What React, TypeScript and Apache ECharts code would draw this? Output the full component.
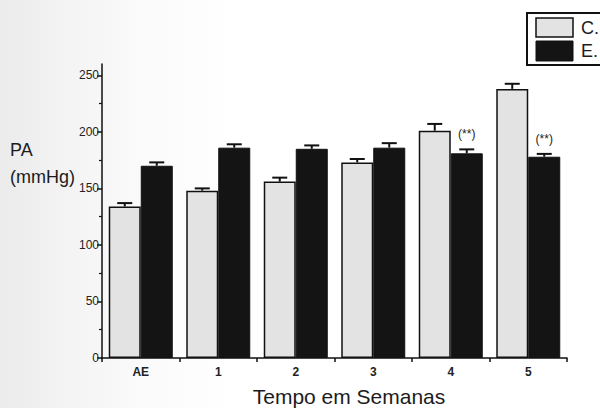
import React, { useEffect, useRef } from "react";
import * as echarts from "echarts";

const categories = ["AE", "1", "2", "3", "4", "5"];
const controlValues = [134, 148, 156, 173, 201, 238];
const controlErrors = [3, 2, 3.5, 3, 6, 4.5];
const exerciseValues = [170, 186, 185, 186, 181, 178];
const exerciseErrors = [3, 3, 3, 4, 3.5, 2.5];
const exerciseMarks = ["", "", "", "", "(**)", "(**)"];
const yTicks = [0, 50, 100, 150, 200, 250];
const yMinorTicks = [25, 75, 125, 175, 225];
const legendNames = ["C.", "E."];
const yTitleLines = ["PA", "(mmHg)"];
const xTitle = "Tempo em Semanas";

const FONT = "Liberation Sans, Arial, sans-serif";
const LIGHT = "#e3e3e3";
const DARK = "#141414";
const BAR_W = 32;

function txt(text: string, size: number, extra: any = {}) {
  return {
    text,
    fill: "#1c1c1c",
    fontSize: size,
    fontFamily: FONT,
    ...extra,
  };
}

function errorSeries(values: number[], errors: number[], offset: number, marks: string[] | null) {
  return {
    type: "custom",
    xAxisIndex: 0,
    yAxisIndex: 0,
    z: 5,
    silent: true,
    data: values.map((v, i) => [i, v, errors[i]]),
    renderItem: (params: any, api: any) => {
      const i = api.value(0);
      const v = api.value(1);
      const e = api.value(2);
      const base = api.coord([i, v]);
      const top = api.coord([i, v + e]);
      const cx = base[0] + offset;
      const half = 7.5;
      const children: any[] = [
        {
          type: "line",
          shape: { x1: cx, y1: base[1], x2: cx, y2: top[1] },
          style: { stroke: "#111", lineWidth: 2 },
        },
        {
          type: "line",
          shape: { x1: cx - half, y1: top[1], x2: cx + half, y2: top[1] },
          style: { stroke: "#111", lineWidth: 2 },
        },
      ];
      const m = marks ? marks[params.dataIndex] : "";
      if (m) {
        children.push({
          type: "text",
          x: cx,
          y: top[1] - 15,
          style: txt(m, 12, { align: "center", verticalAlign: "middle", fill: "#222" }),
        });
      }
      return { type: "group", children };
    },
  };
}

export default function App() {
  const ref = useRef<HTMLDivElement>(null);

  useEffect(() => {
    if (!ref.current) return;
    const chart = echarts.init(ref.current, null, { renderer: "svg" });
    chart.setOption({
      animation: false,
      backgroundColor: "transparent",
      textStyle: { fontFamily: FONT },
      grid: { left: 102, right: 33, top: 64, bottom: 50, containLabel: false },
      xAxis: {
        type: "category",
        data: categories,
        boundaryGap: true,
        axisLine: { show: true, lineStyle: { color: "#111", width: 1.5 } },
        axisTick: { show: true, alignWithLabel: false, length: 4, lineStyle: { color: "#111", width: 1.5 } },
        axisLabel: { color: "#222", fontSize: 12, fontWeight: "bold", margin: 8, fontFamily: FONT },
        splitLine: { show: false },
      },
      yAxis: [
        {
          type: "value",
          min: 0,
          max: 260,
          interval: 50,
          axisLine: { show: true, lineStyle: { color: "#111", width: 1.5 } },
          axisTick: { show: true, length: 5, customValues: yTicks, lineStyle: { color: "#111", width: 1.5 } },
          axisLabel: { customValues: yTicks, color: "#222", fontSize: 12, margin: 3, fontFamily: FONT },
          splitLine: { show: false },
        },
        {
          type: "value",
          min: 0,
          max: 260,
          interval: 50,
          position: "left",
          offset: 0,
          axisLine: { show: false },
          axisTick: { show: true, length: 3, customValues: yMinorTicks, lineStyle: { color: "#111", width: 1.2 } },
          axisLabel: { show: false },
          splitLine: { show: false },
        },
      ],
      series: [
        {
          name: legendNames[0],
          type: "bar",
          data: controlValues,
          barWidth: BAR_W,
          barGap: "0%",
          itemStyle: { color: LIGHT, borderColor: "#111", borderWidth: 1.5 },
          z: 2,
        },
        {
          name: legendNames[1],
          type: "bar",
          data: exerciseValues,
          barWidth: BAR_W,
          barGap: "0%",
          itemStyle: { color: DARK, borderColor: "#111", borderWidth: 1 },
          z: 2,
        },
        errorSeries(controlValues, controlErrors, -BAR_W / 2, null),
        errorSeries(exerciseValues, exerciseErrors, BAR_W / 2, exerciseMarks),
      ],
      graphic: [
        {
          type: "rect",
          shape: { x: 527, y: 13, width: 100, height: 52 },
          style: { fill: "#ffffff", stroke: "#111", lineWidth: 2 },
          z: 10,
        },
        {
          type: "rect",
          shape: { x: 536, y: 18, width: 37, height: 19 },
          style: { fill: LIGHT, stroke: "#111", lineWidth: 1.5 },
          z: 11,
        },
        {
          type: "rect",
          shape: { x: 536, y: 41, width: 37, height: 20 },
          style: { fill: DARK, stroke: "#111", lineWidth: 1 },
          z: 11,
        },
        {
          type: "text",
          x: 581,
          y: 28,
          style: txt(legendNames[0], 18, { verticalAlign: "middle" }),
          z: 11,
        },
        {
          type: "text",
          x: 581,
          y: 51,
          style: txt(legendNames[1], 18, { verticalAlign: "middle" }),
          z: 11,
        },
        {
          type: "text",
          x: 10,
          y: 150,
          style: txt(yTitleLines[0], 18, { verticalAlign: "middle" }),
        },
        {
          type: "text",
          x: 10,
          y: 177,
          style: txt(yTitleLines[1], 18, { verticalAlign: "middle" }),
        },
        {
          type: "text",
          x: 349,
          y: 396,
          style: txt(xTitle, 21, { align: "center", verticalAlign: "middle" }),
        },
      ],
    });
    return () => chart.dispose();
  }, []);

  return (
    <div
      style={{
        position: "absolute",
        left: 0,
        top: 0,
        width: 600,
        height: 408,
        overflow: "hidden",
        background: "linear-gradient(to right, #ebebeb 0%, #f4f4f4 12%, #fbfbfb 25%, #ffffff 40%)",
      }}
    >
      <div ref={ref} style={{ width: 600, height: 408 }} />
    </div>
  );
}
